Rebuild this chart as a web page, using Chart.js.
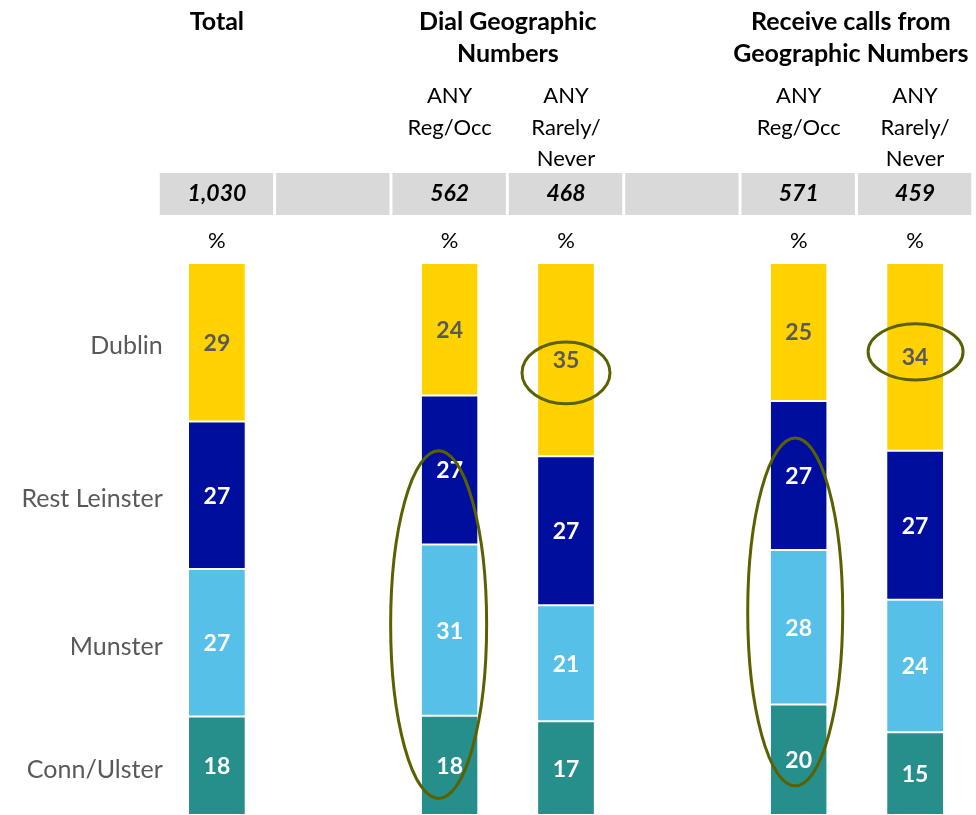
<!DOCTYPE html>
<html><head><meta charset="utf-8">
<script src="https://cdn.jsdelivr.net/npm/chart.js@4.4.1/dist/chart.umd.min.js"></script>
<style>html,body{margin:0;padding:0;background:#fff;}#wrap{width:976px;height:815px;position:relative;}</style>
</head><body><div id="wrap"><canvas id="c"></canvas></div>
<script>
// ---- data ----
const categories = ['Total', '', 'ANY Reg/Occ', 'ANY Rarely/Never', '', 'ANY Reg/Occ', 'ANY Rarely/Never'];
const subHeaderLines = [[], [], ['ANY', 'Reg/Occ'], ['ANY', 'Rarely/', 'Never'], [], ['ANY', 'Reg/Occ'], ['ANY', 'Rarely/', 'Never']];
const groupHeaders = [
  { lines: ['Total'], from: 0, to: 0 },
  { lines: ['Dial Geographic', 'Numbers'], from: 2, to: 3 },
  { lines: ['Receive calls from', 'Geographic Numbers'], from: 5, to: 6 }
];
const sampleSizes = ['1,030', '', '562', '468', '', '571', '459'];
const percentRow = ['%', '', '%', '%', '', '%', '%'];
const seriesNames = ['Conn/Ulster', 'Munster', 'Rest Leinster', 'Dublin'];
const connUlster   = [18, null, 18, 17, null, 20, 15];
const munster      = [27, null, 31, 21, null, 28, 24];
const restLeinster = [27, null, 27, 27, null, 27, 27];
const dublin       = [29, null, 24, 35, null, 25, 34];
// highlighted regions: category index, value range (in % of bar)
const highlights = [
  { cat: 2, from: 3, to: 66, dx: -11, rx: 48 },
  { cat: 3, from: 74.5, to: 85.7, dx: 0, rx: 44 },
  { cat: 5, from: 5.3, to: 68.3, dx: -3.5, rx: 47.5 },
  { cat: 6, from: 78.8, to: 89, dx: 0.5, rx: 47.5 }
];

const seriesValues = [connUlster, munster, restLeinster, dublin];
const colors = ['#268F8C', '#56C0E8', '#000E9E', '#FFD200'];
const labelColors = ['#FFFFFF', '#FFFFFF', '#FFFFFF', '#595959'];
const totals = categories.map((_, i) => seriesValues.reduce((s, a) => s + (a[i] || 0), 0));

const FONT = 'Lato, "Open Sans", sans-serif';

const overlay = {
  id: 'overlay',
  afterDatasetsDraw(chart) {
    const ctx = chart.ctx;
    const xs = chart.scales.x, ys = chart.scales.y;
    const step = xs.getPixelForValue(1) - xs.getPixelForValue(0);
    ctx.save();
    // segment value labels
    chart.data.datasets.forEach((ds, di) => {
      const meta = chart.getDatasetMeta(di);
      meta.data.forEach((el, i) => {
        const v = seriesValues[di][i];
        if (v == null) return;
        const yc = (el.y + el.base) / 2;
        ctx.font = 'bold 23px ' + FONT;
        ctx.fillStyle = labelColors[di];
        ctx.textAlign = 'center';
        ctx.textBaseline = 'middle';
        ctx.fillText(String(v), el.x, yc + 1);
      });
    });
    // series names beside Total bar
    chart.data.datasets.forEach((ds, di) => {
      const el = chart.getDatasetMeta(di).data[0];
      const yc = (el.y + el.base) / 2;
      ctx.font = '25px ' + FONT;
      ctx.fillStyle = '#595959';
      ctx.textAlign = 'right';
      ctx.textBaseline = 'middle';
      ctx.fillText(seriesNames[di], xs.left + 4, yc + 4);
    });
    // headers
    ctx.fillStyle = '#000000';
    ctx.textAlign = 'center';
    ctx.textBaseline = 'middle';
    groupHeaders.forEach(g => {
      const x = (xs.getPixelForValue(g.from) + xs.getPixelForValue(g.to)) / 2;
      ctx.font = 'bold 25px ' + FONT;
      g.lines.forEach((t, li) => ctx.fillText(t, x + (g.from === 5 ? -6 : 0), 22 + li * 32));
    });
    subHeaderLines.forEach((lines, i) => {
      const x = xs.getPixelForValue(i);
      ctx.font = '22px ' + FONT;
      lines.forEach((t, li) => ctx.fillText(t, x, 96 + li * 31.5));
    });
    // sample size row
    categories.forEach((c, i) => {
      const x = xs.getPixelForValue(i);
      ctx.fillStyle = '#D9D9D9';
      ctx.fillRect(x - step / 2 + 1, 173, step - 3, 42);
      if (sampleSizes[i]) {
        ctx.fillStyle = '#000000';
        ctx.font = 'italic bold 23px ' + FONT;
        ctx.fillText(sampleSizes[i], x, 194);
      }
      if (percentRow[i]) {
        ctx.fillStyle = '#000000';
        ctx.font = '22px ' + FONT;
        ctx.fillText(percentRow[i], x, 241);
      }
    });
    // highlight ellipses
    ctx.strokeStyle = '#5C6100';
    ctx.lineWidth = 3;
    highlights.forEach(h => {
      const x = xs.getPixelForValue(h.cat) + h.dx;
      const y1 = ys.getPixelForValue(h.from), y2 = ys.getPixelForValue(h.to);
      ctx.beginPath();
      ctx.ellipse(x, (y1 + y2) / 2, h.rx, Math.abs(y1 - y2) / 2, 0, 0, Math.PI * 2);
      ctx.stroke();
    });
    ctx.restore();
  }
};

new Chart(document.getElementById('c'), {
  type: 'bar',
  data: {
    labels: categories,
    datasets: seriesValues.map((arr, di) => ({
      label: seriesNames[di],
      data: arr.map((v, i) => v == null ? null : v / totals[i] * 100),
      backgroundColor: colors[di],
      borderColor: '#FFFFFF',
      borderWidth: { top: 1, bottom: 1, left: 0, right: 0 },
      borderSkipped: false,
      categoryPercentage: 1,
      barPercentage: 0.48
    }))
  },
  options: {
    responsive: true,
    maintainAspectRatio: false,
    animation: false,
    layout: { padding: { left: 158.75, right: 2.75, top: 263, bottom: 0 } },
    plugins: { legend: { display: false }, tooltip: { enabled: false } },
    scales: {
      x: { stacked: true, display: false },
      y: { stacked: true, display: false, min: 0, max: 100 }
    }
  },
  plugins: [overlay]
});
</script></body></html>
